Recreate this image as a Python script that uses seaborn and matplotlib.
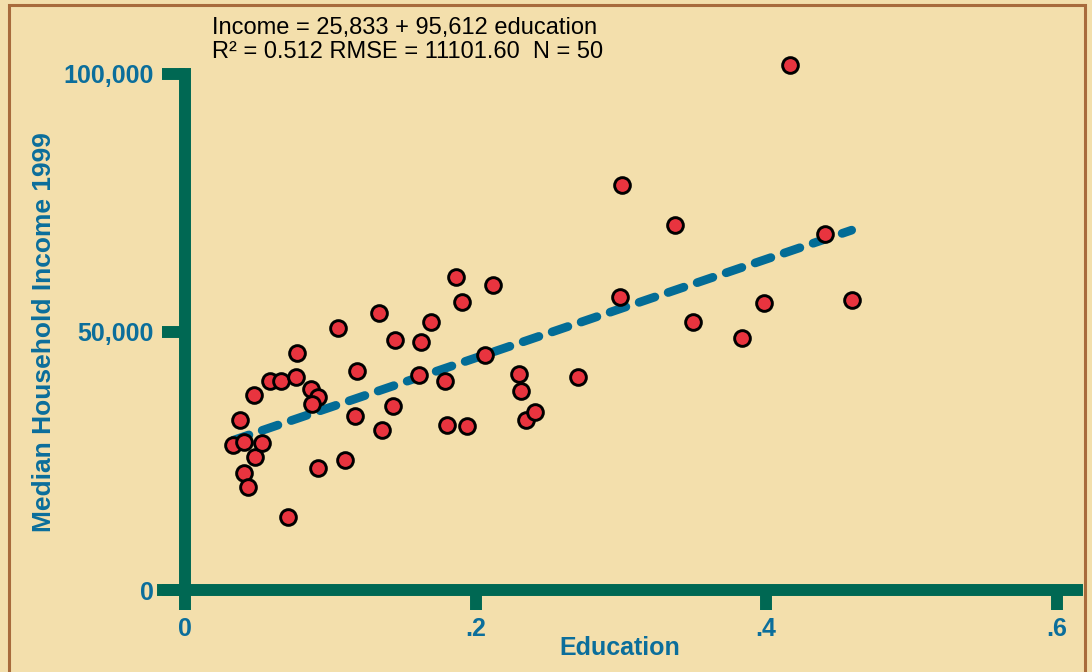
import numpy as np
import matplotlib
matplotlib.use("Agg")
import matplotlib.pyplot as plt
from matplotlib.patches import Rectangle
import seaborn as sns

# share of adults with college education, by state
education = [0.0332, 0.0379, 0.0404, 0.0408, 0.0436, 0.0473, 0.0482, 0.0528, 0.0585, 0.0659,
             0.0709, 0.0769, 0.0764, 0.0867, 0.0917, 0.0874, 0.0913, 0.1051, 0.1103, 0.1171,
             0.1187, 0.1335, 0.1358, 0.1434, 0.1443, 0.1622, 0.1692, 0.1613, 0.1791, 0.1803,
             0.1867, 0.1908, 0.1941, 0.2066, 0.2120, 0.2299, 0.2310, 0.2349, 0.2407, 0.2703,
             0.3010, 0.2996, 0.3370, 0.3498, 0.3836, 0.3983, 0.4164, 0.4407, 0.4589]
# median household income 1999
income = [28100, 32900, 28740, 22620, 19900, 37850, 25830, 28550, 40560, 40560,
          14200, 45830, 41220, 38950, 37350, 36050, 23590, 50830, 25190, 33620,
          42500, 53740, 31010, 35660, 48450, 48120, 52000, 41610, 40410, 32040,
          60720, 55870, 31780, 45450, 59170, 41860, 38570, 32890, 34440, 41340,
          78550, 56840, 70800, 52000, 48780, 55620, 101800, 69050, 56200]

intercept = 25833
slope = 95612
y_ticks = [0, 50000, 100000]
y_labels = ["0", "50,000", "100,000"]
x_ticks = [0, 0.2, 0.4, 0.6]
x_labels = ["0", ".2", ".4", ".6"]

bg = "#F3DFAC"
green = "#006853"
blue = "#0B6E9B"
red = "#E8343F"

sns.set_style("white")
plt.rcParams["font.family"] = ["Liberation Sans", "DejaVu Sans"]

fig = plt.figure(figsize=(10.92, 6.72), dpi=100, facecolor=bg)
ax = fig.add_axes([163 / 1092, 1 - 590 / 672, 914 / 1092, 542 / 672])
ax.set_facecolor(bg)

# fitted line from the reported coefficients
fit_x = np.array([min(education), max(education)])
fit_y = intercept + slope * fit_x
sns.lineplot(x=fit_x, y=fit_y, ax=ax, color="#036C96", linewidth=6.3,
             linestyle=(0, (1.9, 1.6)), dash_capstyle="round", zorder=2)

sns.scatterplot(x=education, y=income, ax=ax, color=red, edgecolor="black",
                s=128, linewidth=2.1, zorder=3, clip_on=False)

ax.set_xlim(-0.0151, 0.614)
ax.set_ylim(0, 105000)

for side in ["top", "right"]:
    ax.spines[side].set_visible(False)
ax.spines["left"].set_position(("data", 0))
ax.spines["left"].set_bounds(0, 100000)
ax.spines["left"].set_capstyle("projecting")
for side in ["left", "bottom"]:
    ax.spines[side].set_color(green)
    ax.spines[side].set_linewidth(8.6)

ax.set_yticks(y_ticks)
ax.set_yticklabels(y_labels)
ax.set_xticks(x_ticks)
ax.set_xticklabels(x_labels)
ax.tick_params(axis="y", direction="out", length=16.5, width=8.6, color=green, pad=6,
               labelsize=18, labelcolor=blue, left=True)
ax.tick_params(axis="x", direction="out", length=14.4, width=8.6, color=green, pad=5,
               labelsize=18, labelcolor=blue, bottom=True)
for lab in ax.get_xticklabels() + ax.get_yticklabels():
    lab.set_fontweight("bold")

ax.set_xlabel("Education", fontweight="bold", fontsize=18, color=blue)
ax.xaxis.set_label_coords(0.5, -0.084)
ax.set_ylabel("Median Household Income 1999", fontweight="bold", fontsize=19, color=blue)
ax.yaxis.set_label_coords(-0.117, 0.476)

fig.text(212 / 1092, 1 - 17 / 672,
         "Income = 25,833 + 95,612 education\nR² = 0.512 RMSE = 11101.60  N = 50",
         ha="left", va="top", fontsize=17, linespacing=1.1, color="black")

fig.patches.append(Rectangle((9 / 1092, -0.05), 1076 / 1092, 1.05 - 5 / 672,
                             transform=fig.transFigure, fill=False,
                             edgecolor="#A86B3C", linewidth=2.2))

fig.savefig("out.png", dpi=100, facecolor=bg)
